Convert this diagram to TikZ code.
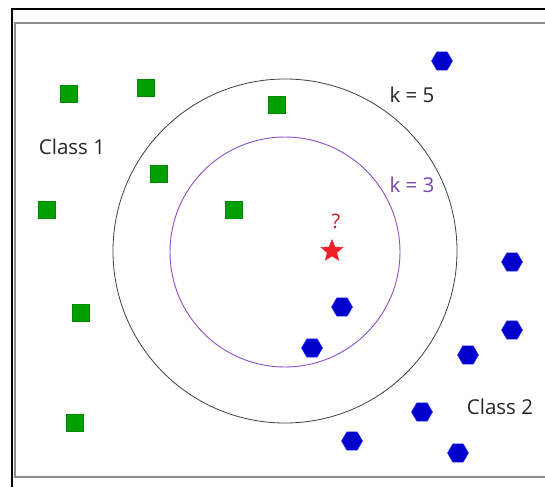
\documentclass[tikz,border=0pt]{standalone}
\usepackage{fontspec}
\setmainfont{Open Sans}
\usepackage{tikz}
\usetikzlibrary{shapes.geometric}
\definecolor{sqgreen}{RGB}{0,160,0}
\definecolor{hxblue}{RGB}{0,0,205}
\definecolor{knnpurple}{RGB}{140,80,200}
\definecolor{qred}{RGB}{240,30,40}
\tikzset{
  sq/.style  ={rectangle, draw=sqgreen!85!black, fill=sqgreen, minimum size=17pt, inner sep=0pt, line width=0.5pt},
  hx/.style  ={regular polygon, regular polygon sides=6, draw=blue!80!white, fill=hxblue, minimum size=21pt, inner sep=0pt, line width=0.5pt},
  ring/.style={circle, draw, inner sep=0pt},
  lbl/.style ={font=\fontsize{20.5}{24}\selectfont, text=black!85, inner sep=1pt},
}

\begin{document}
\begin{tikzpicture}[x=1pt, y=-1pt]
  \useasboundingbox (0,0) rectangle (545,487);
  % frame
  \draw[line width=2pt] (12,487) -- (12,9) -- (545,9);
  \draw[black!45, line width=1.6pt] (545,23) -- (15,23) -- (15,477) -- (545,477);
  % neighbourhoods
  \node[ring, draw=black!75, line width=0.8pt, minimum size=344pt] (k5ring) at (285,251) {};
  \node[ring, draw=knnpurple, line width=0.9pt, minimum size=230pt] (k3ring) at (285,252) {};
  % class 1
  \node[sq] (g1) at (69,94) {};
  \node[sq] (g2) at (146,88) {};
  \node[sq] (g3) at (277,105) {};
  \node[sq] (g4) at (159,174) {};
  \node[sq] (g5) at (47,210) {};
  \node[sq] (g6) at (234,210) {};
  \node[sq] (g7) at (81,313) {};
  \node[sq] (g8) at (75,423) {};
  % class 2
  \node[hx] (b1) at (442,61) {};
  \node[hx] (b2) at (512,262) {};
  \node[hx] (b3) at (342,307) {};
  \node[hx] (b4) at (312,348) {};
  \node[hx] (b5) at (512,330) {};
  \node[hx] (b6) at (468,355) {};
  \node[hx] (b7) at (422,412) {};
  \node[hx] (b8) at (352,441) {};
  \node[hx] (b9) at (458,453) {};
  % query point
  \node[star, star points=5, star point ratio=2.3, fill=qred, draw=qred, minimum size=23pt, inner sep=0pt] (qry) at (332,251) {};
  \node[lbl, text=qred!85!black, font=\fontsize{20}{22}\selectfont] (qmark) at (336,221) {?};
  % labels
  \node[lbl] (cls1) at (72,147) {Class 1};
  \node[lbl] (cls2) at (500,407) {Class 2};
  \node[lbl] (k5) at (412,95) {k = 5};
  \node[lbl, text=knnpurple!85!black] (k3) at (412,185) {k = 3};
\end{tikzpicture}
\end{document}
